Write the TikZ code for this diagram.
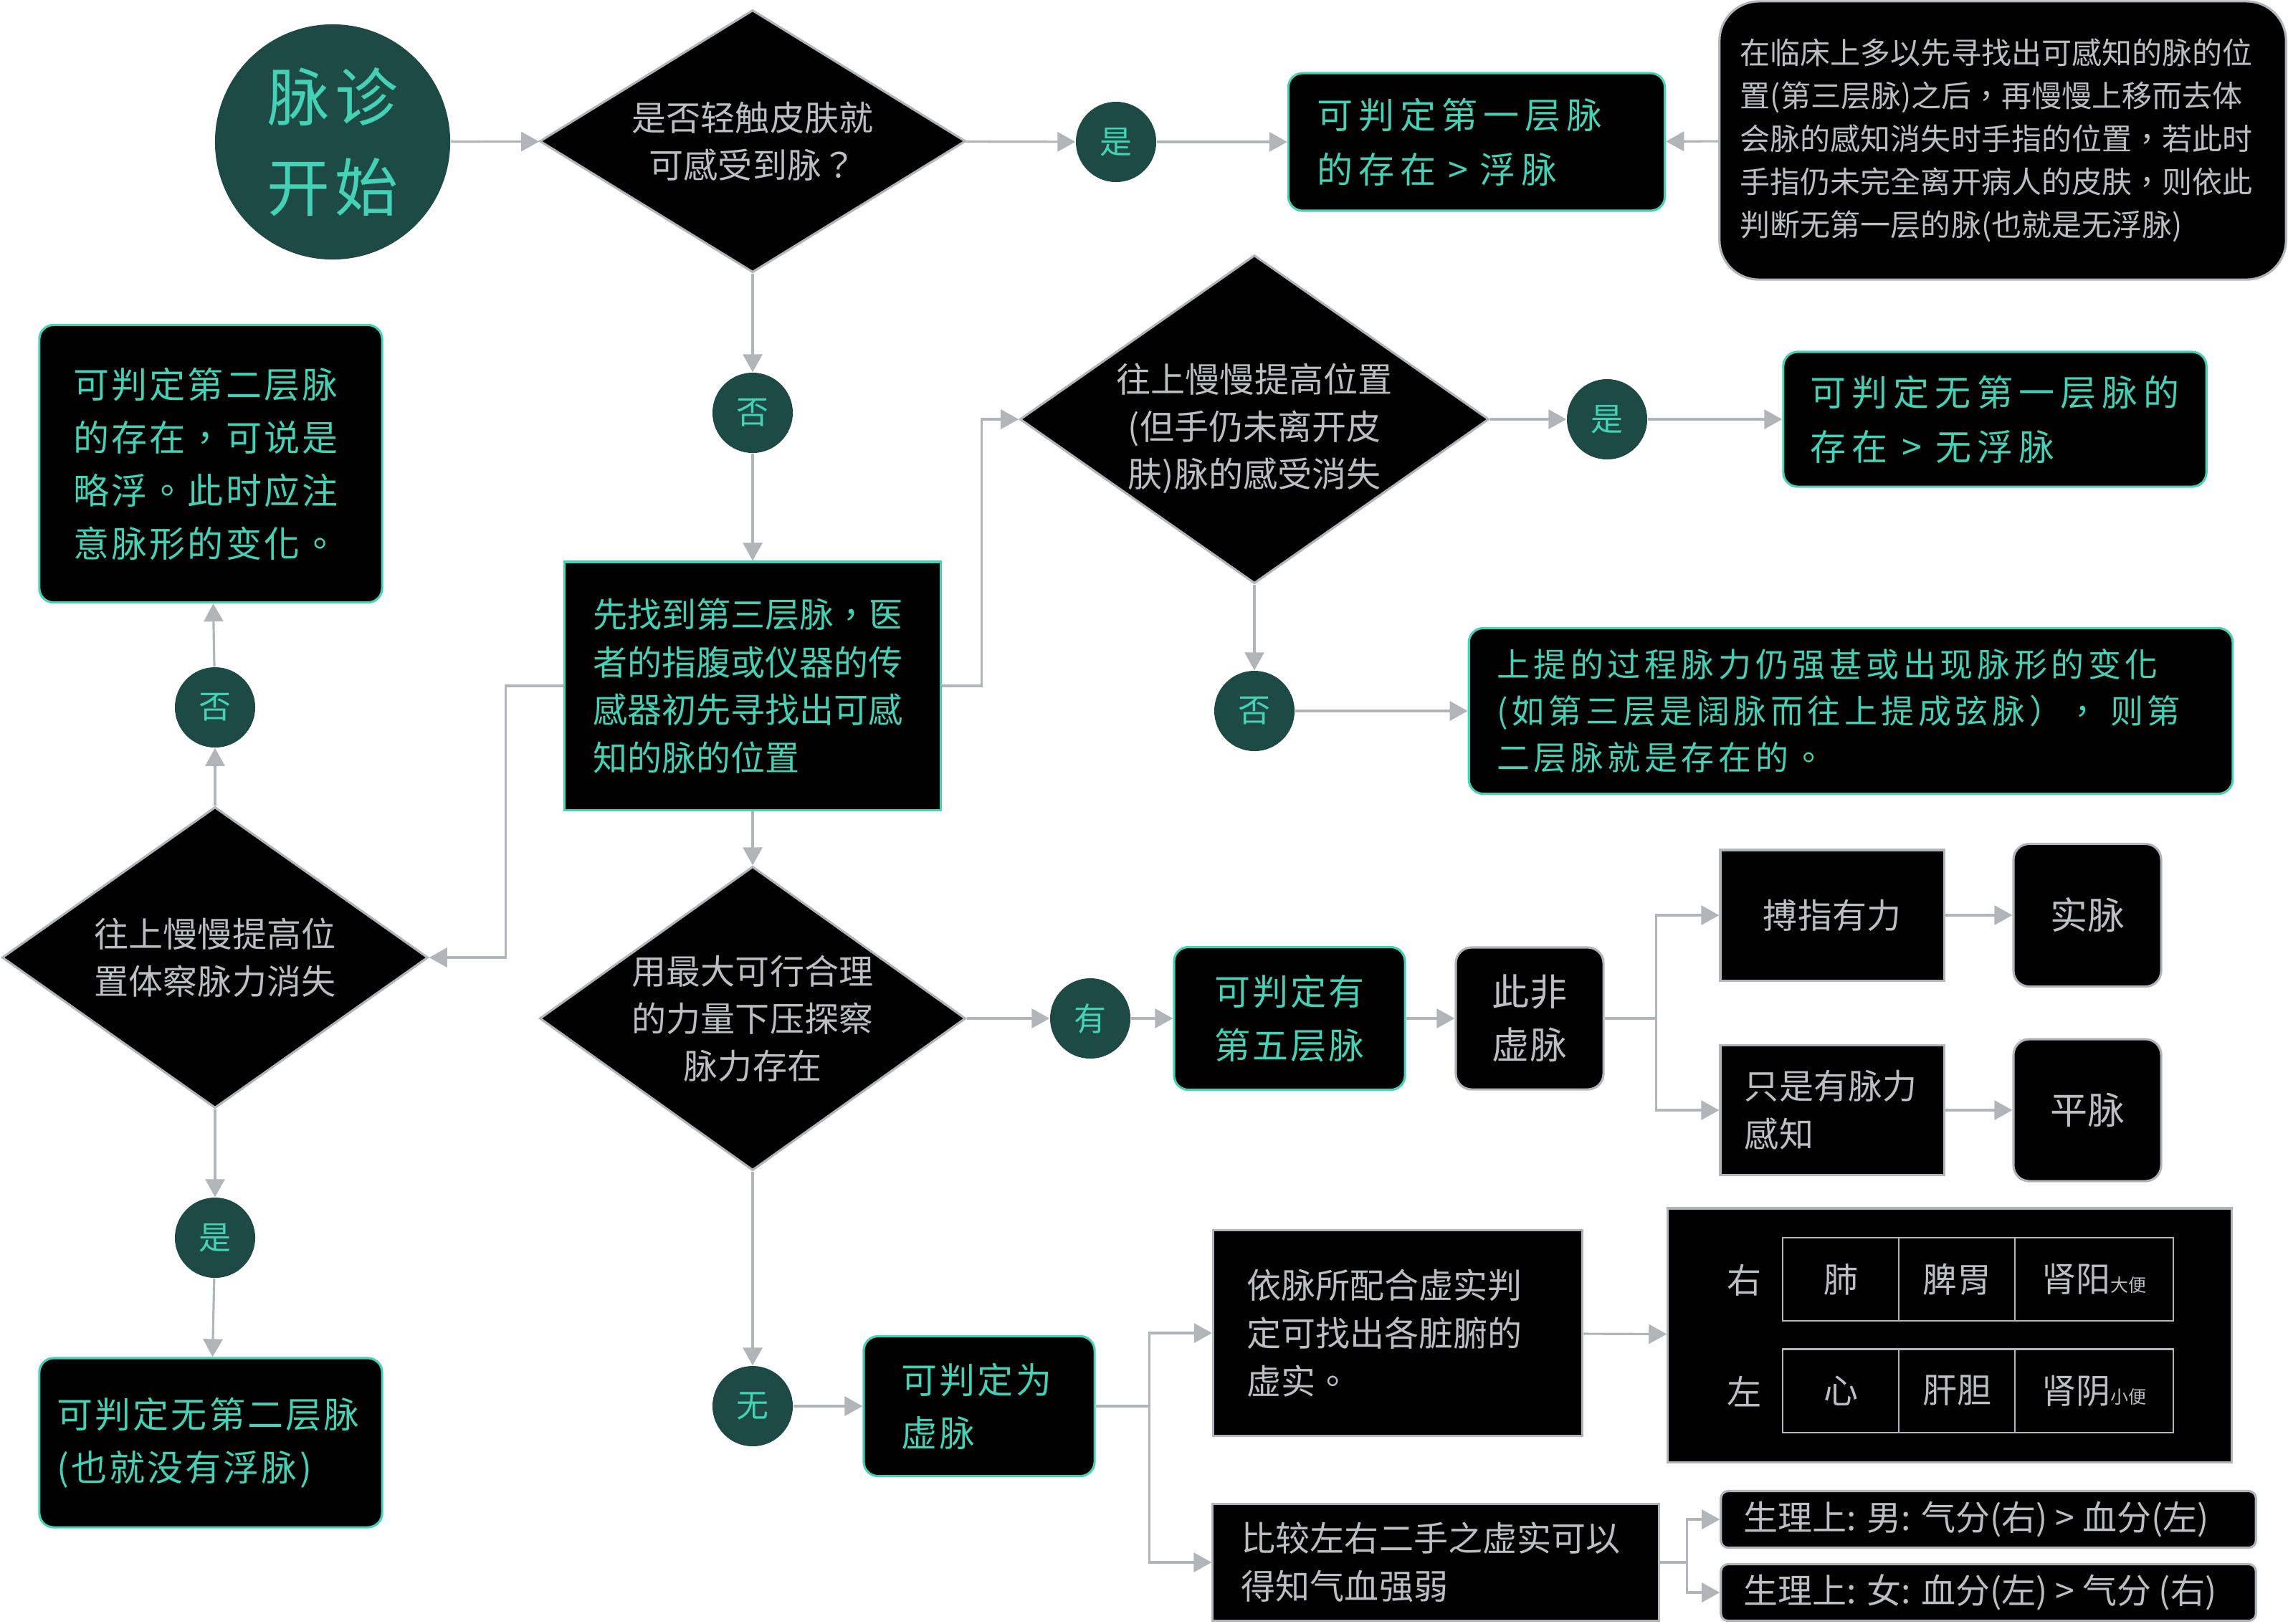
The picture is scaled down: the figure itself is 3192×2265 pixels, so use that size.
\documentclass[tikz,border=0pt]{standalone}
\usepackage{fontspec}
\setmainfont{Noto Sans CJK TC}
\newfontfamily\titlecjk[LetterSpace=8]{Noto Sans CJK TC}
\newfontfamily\widecjk[LetterSpace=16]{Noto Sans CJK TC}
\newfontfamily\spacedcjk[LetterSpace=12]{Noto Sans CJK TC}
\newfontfamily\midcjk[LetterSpace=6]{Noto Sans CJK TC}
\newfontfamily\plaincjk{Noto Sans CJK SC}
\usetikzlibrary{arrows.meta,shapes.geometric,positioning}
\definecolor{pulseline}{HTML}{B1B5B9}
\definecolor{pulsegray}{HTML}{BCBFC2}
\definecolor{pulseteal}{HTML}{44D1B5}
\definecolor{pulsedark}{HTML}{1D4A45}
\tikzset{
    %Define standard arrow tip
    >={Triangle[length=0.25cm,width=0.27cm]},
    %Define style for start and answer circles
    start/.style={
           circle,
           fill=pulsedark,
           text=pulseteal,
           minimum size=3.28cm,
           inner sep=0pt,
           align=center,
           font=\titlecjk\fontsize{25}{35.9}\selectfont},
    answer/.style={
           circle,
           fill=pulsedark,
           text=pulseteal,
           minimum size=1.12cm,
           inner sep=0pt,
           font=\fontsize{12.8}{12.8}\selectfont},
    %Define style for decisions
    decision/.style={
           diamond,
           fill=black,
           draw=pulseline, line width=0.9pt,
           text=pulsegray,
           inner sep=0pt,
           align=center,
           font=\fontsize{13.66}{18.78}\selectfont},
    %Define style for boxes
    result/.style={
           rectangle,
           rounded corners=0.2cm,
           fill=black,
           draw=pulseteal, line width=0.9pt,
           text=pulseteal,
           inner sep=0pt,
           align=left,
           font=\midcjk\fontsize{14.23}{21.06}\selectfont},
    wide/.style={
           font=\widecjk\fontsize{14.23}{21.62}\selectfont},
    stepbox/.style={
           rectangle,
           fill=black,
           draw=pulseteal, line width=0.9pt,
           text=pulseteal,
           inner sep=0pt,
           align=left,
           font=\fontsize{13.66}{18.92}\selectfont},
    graybox/.style={
           rectangle,
           fill=black,
           draw=pulseline, line width=0.9pt,
           text=pulsegray,
           inner sep=0pt,
           align=left,
           font=\fontsize{13.66}{19.06}\selectfont},
    grayround/.style={
           graybox,
           rounded corners=0.22cm},
    sexbox/.style={
           graybox,
           rounded corners=0.1cm,
           align=flush left,
           text width=6.82cm,
           minimum width=7.46cm,
           minimum height=0.79cm,
           font=\plaincjk\fontsize{13.66}{19.06}\selectfont},
    cell/.style={
           rectangle,
           fill=black,
           draw=pulseline, line width=0.6pt,
           text=pulsegray,
           minimum width=1.62cm,
           minimum height=1.16cm,
           inner sep=0pt,
           font=\fontsize{13.66}{13.66}\selectfont},
    % Define arrow style
    imply/.style={
           ->,
           draw=pulseline,
           line width=0.9pt},
    link/.style={
           draw=pulseline,
           line width=0.9pt}
}
\newcommand{\tinynote}[1]{{\fontsize{7.1}{7.1}\selectfont #1}}
\newcommand{\lowered}[1]{\raisebox{-3.6pt}[\height][\depth]{#1}}

\begin{document}
\begin{tikzpicture}[x=0.01cm, y=-0.01cm]
 \useasboundingbox (0,0) rectangle (3192,2265);
 %nodes
    \node[start] (start) at (464,198) {脉诊\\开始};
    \node[decision, aspect=1.62, minimum width=5.94cm, minimum height=3.66cm] (touch) at (1050,197) {是否轻触皮肤就\\可感受到脉？};
    \node[answer] (yes1) at (1557,198) {是};
    \node[result, wide, text width=4.45cm, minimum width=5.25cm, minimum height=1.92cm] (layer1) at (2060,198) {可判定第一层脉\\的存在 > 浮脉};
    \node[grayround, rounded corners=0.55cm, text width=7.32cm, minimum width=7.90cm, minimum height=3.88cm,
          font=\fontsize{11.95}{17.07}\selectfont] (note) at (2794,196)
          {在临床上多以先寻找出可感知的脉的位\\置(第三层脉)之后，再慢慢上移而去体\\会脉的感知消失时手指的位置，若此时\\手指仍未完全离开病人的皮肤，则依此\\判断无第一层的脉(也就是无浮脉)};
    \node[answer] (no1) at (1050,576) {否};
    \node[stepbox, text width=4.45cm, minimum width=5.25cm, minimum height=3.46cm] (find3) at (1050,957)
          {先找到第三层脉，医\\者的指腹或仪器的传\\感器初先寻找出可感\\知的脉的位置};
    \node[decision, aspect=1.43, minimum width=6.54cm, minimum height=4.58cm] (lift1) at (1750,585)
          {\lowered{往上慢慢提高位置}\\\lowered{(但手仍未离开皮}\\\lowered{肤)脉的感受消失}};
    \node[answer] (yes2) at (2242,585) {是};
    \node[result, wide, minimum width=5.90cm, minimum height=1.88cm] (nolayer1) at (2783,585) {可判定无第一层脉的\\存在 > 无浮脉};
    \node[answer] (no2) at (1750,992) {否};
    \node[result, text width=9.87cm, minimum width=10.65cm, minimum height=2.31cm,
          font=\spacedcjk\fontsize{13.09}{18.49}\selectfont] (change) at (2582,992)
          {上提的过程脉力仍强甚或出现脉形的变化\\(如第三层是阔脉而往上提成弦脉）， 则第\\二层脉就是存在的。};
    \node[result, text width=3.82cm, minimum width=4.78cm, minimum height=3.87cm] (layer2) at (294,647)
          {可判定第二层脉\\的存在，可说是\\略浮。此时应注\\意脉形的变化。};
    \node[answer] (no3) at (300,987) {否};
    \node[decision, aspect=1.41, minimum width=5.94cm, minimum height=4.2cm] (lift2) at (300,1336)
          {往上慢慢提高位\\置体察脉力消失};
    \node[answer] (yes3) at (300,1727) {是};
    \node[result, text width=4.28cm, minimum width=4.78cm, minimum height=2.36cm] (nolayer2) at (294,2013)
          {可判定无第二层脉\\(也就没有浮脉)};
    \node[decision, aspect=1.4, minimum width=5.94cm, minimum height=4.24cm] (press) at (1050,1421)
          {用最大可行合理\\的力量下压探察\\脉力存在};
    \node[answer] (have) at (1521,1421) {有};
    \node[result, align=center, minimum width=3.22cm, minimum height=1.99cm] (layer5) at (1799,1421) {可判定有\\第五层脉};
    \node[grayround, align=center, minimum width=2.06cm, minimum height=1.98cm,
          font=\fontsize{14.8}{21.06}\selectfont] (notxu) at (2134,1421) {此非\\虚脉};
    \node[graybox, minimum width=3.12cm, minimum height=1.82cm] (strong) at (2556,1277) {搏指有力};
    \node[grayround, minimum width=2.06cm, minimum height=1.99cm,
          font=\fontsize{14.8}{21.06}\selectfont] (shi) at (2912,1277) {实脉};
    \node[graybox, text width=2.44cm, minimum width=3.12cm, minimum height=1.81cm] (feel) at (2556,1549) {只是有脉力\\感知};
    \node[grayround, minimum width=2.06cm, minimum height=1.98cm,
          font=\fontsize{14.8}{21.06}\selectfont] (ping) at (2912,1549) {平脉};
    \node[answer] (none) at (1050,1962) {无};
    \node[result, text width=2.16cm, minimum width=3.22cm, minimum height=1.95cm] (xu) at (1366,1962) {可判定为\\虚脉};
    \node[graybox, text width=4.21cm, minimum width=5.15cm, minimum height=2.87cm] (organtext) at (1950,1860)
          {依脉所配合虚实判\\定可找出各脏腑的\\虚实。};
    \node[graybox, minimum width=7.86cm, minimum height=3.54cm] (organs) at (2720,1863) {};
    \node[text=pulsegray, font=\fontsize{13.66}{13.66}\selectfont] (right) at (2433,1786) {右};
    \node[cell] (lung) at (2568,1785) {肺};
    \node[cell] (spleen) at (2730,1785) {脾胃};
    \node[cell, minimum width=2.21cm] (kyang) at (2921.5,1785) {肾阳\tinynote{大便}};
    \node[text=pulsegray, font=\fontsize{13.66}{13.66}\selectfont] (left) at (2433,1941) {左};
    \node[cell] (heart) at (2568,1940.5) {心};
    \node[cell] (liver) at (2730,1940.5) {肝胆};
    \node[cell, minimum width=2.21cm] (kyin) at (2921.5,1940.5) {肾阴\tinynote{小便}};
    \node[graybox, text width=5.42cm, minimum width=6.22cm, minimum height=1.63cm] (compare) at (2003,2180)
          {比较左右二手之虚实可以\\得知气血强弱};
    \node[sexbox] (male) at (2774,2120) {生理上: 男: 气分(右) > 血分(左)};
    \node[sexbox] (female) at (2774,2222) {生理上: 女: 血分(左) > 气分 (右)};
 %edges
    \draw[imply] (start) -- (touch);
    \draw[imply] (touch) -- (yes1);
    \draw[imply] (yes1) -- (layer1);
    \draw[imply] (note) -- (layer1);
    \draw[imply] (touch) -- (no1);
    \draw[imply] (no1) -- (find3);
    \draw[imply] (find3.east) -- ++(55,0) |- (lift1.west);
    \draw[imply] (find3.west) -- ++(-80,0) |- (lift2.east);
    \draw[imply] (lift1) -- (yes2);
    \draw[imply] (yes2) -- (nolayer1);
    \draw[imply] (lift1) -- (no2);
    \draw[imply] (no2) -- (change);
    \draw[imply] (lift2) -- (no3);
    \draw[imply] (no3) -- (layer2);
    \draw[imply] (lift2) -- (yes3);
    \draw[imply] (yes3) -- (nolayer2);
    \draw[imply] (find3) -- (press);
    \draw[imply] (press) -- (have);
    \draw[imply] (have) -- (layer5);
    \draw[imply] (layer5) -- (notxu);
    \draw[link] (notxu.east) -- ++(72,0) coordinate (fork1);
    \draw[imply] (fork1) |- (strong);
    \draw[imply] (fork1) |- (feel);
    \draw[imply] (strong) -- (shi);
    \draw[imply] (feel) -- (ping);
    \draw[imply] (press) -- (none);
    \draw[imply] (none) -- (xu);
    \draw[link] (xu.east) -- ++(75,0) coordinate (fork2);
    \draw[imply] (fork2) |- (organtext);
    \draw[imply] (fork2) |- (compare);
    \draw[imply] (organtext) -- (organs);
    \draw[link] (compare.east) -- ++(38,0) coordinate (fork3);
    \draw[imply] (fork3) |- (male);
    \draw[imply] (fork3) |- (female);
\end{tikzpicture}
\end{document}
